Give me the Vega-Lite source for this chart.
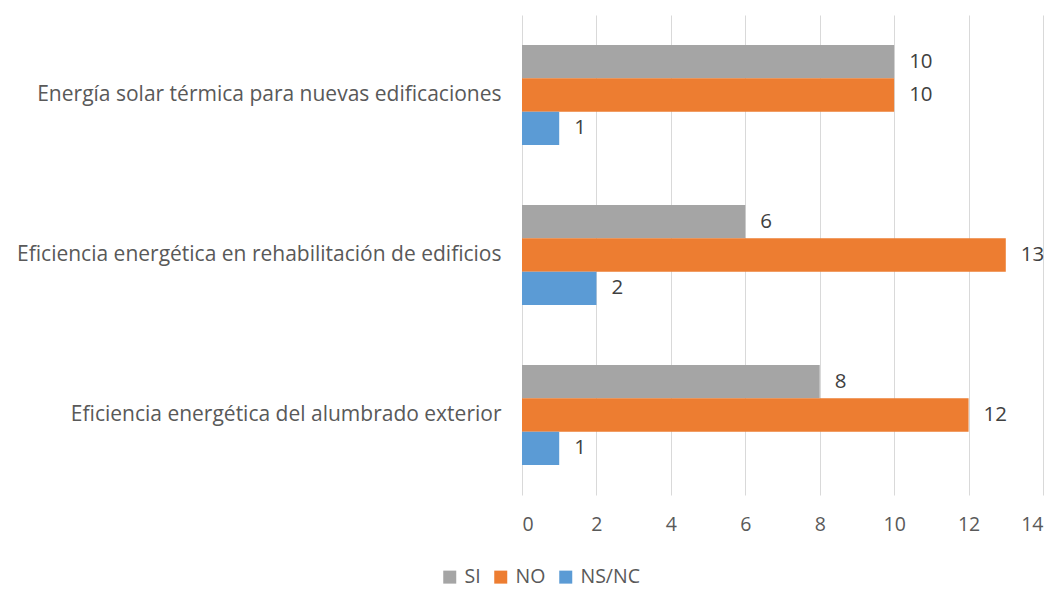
{
  "$schema": "https://vega.github.io/schema/vega-lite/v6.json",
  "width": 521,
  "height": 480,
  "autosize": {"type": "none"},
  "padding": {"left": 522, "top": 15, "right": 12, "bottom": 95},
  "background": "white",
  "config": {"font": "Open Sans", "view": {"stroke": null}},
  "data": {
    "values": [
      {"cat": "Energía solar térmica para nuevas edificaciones", "serie": "SI", "v": 10},
      {"cat": "Energía solar térmica para nuevas edificaciones", "serie": "NO", "v": 10},
      {"cat": "Energía solar térmica para nuevas edificaciones", "serie": "NS/NC", "v": 1},
      {"cat": "Eficiencia energética en rehabilitación de edificios", "serie": "SI", "v": 6},
      {"cat": "Eficiencia energética en rehabilitación de edificios", "serie": "NO", "v": 13},
      {"cat": "Eficiencia energética en rehabilitación de edificios", "serie": "NS/NC", "v": 2},
      {"cat": "Eficiencia energética del alumbrado exterior", "serie": "SI", "v": 8},
      {"cat": "Eficiencia energética del alumbrado exterior", "serie": "NO", "v": 12},
      {"cat": "Eficiencia energética del alumbrado exterior", "serie": "NS/NC", "v": 1}
    ]
  },
  "encoding": {
    "y": {
      "field": "cat",
      "type": "nominal",
      "sort": [
        "Energía solar térmica para nuevas edificaciones",
        "Eficiencia energética en rehabilitación de edificios",
        "Eficiencia energética del alumbrado exterior"
      ],
      "scale": {"paddingInner": 0.375, "paddingOuter": 0.1875},
      "axis": {
        "title": null,
        "domain": false,
        "ticks": false,
        "labelPadding": 21,
        "labelFontSize": 21,
        "labelColor": "#595959",
        "labelLimit": 600
      }
    },
    "yOffset": {
      "field": "serie",
      "type": "nominal",
      "sort": ["SI", "NO", "NS/NC"],
      "scale": {"paddingInner": 0, "paddingOuter": 0}
    },
    "x": {
      "field": "v",
      "type": "quantitative",
      "scale": {"domain": [0, 14], "nice": false},
      "axis": {
        "title": null,
        "values": [0, 2, 4, 6, 8, 10, 12, 14],
        "domain": false,
        "ticks": false,
        "grid": true,
        "gridColor": "#D9D9D9",
        "gridWidth": 1,
        "labelPadding": 20,
        "labelFontSize": 19.5,
        "labelColor": "#595959"
      }
    }
  },
  "layer": [
    {
      "mark": {"type": "bar"},
      "encoding": {
        "color": {
          "field": "serie",
          "type": "nominal",
          "sort": ["SI", "NO", "NS/NC"],
          "scale": {"domain": ["SI", "NO", "NS/NC"], "range": ["#A5A5A5", "#ED7D31", "#5B9BD5"]},
          "legend": {
            "title": null,
            "orient": "none",
            "direction": "horizontal",
            "legendX": -82,
            "legendY": 552,
            "symbolType": "square",
            "symbolSize": 169,
            "symbolStrokeWidth": 0,
            "labelFontSize": 19.5,
            "labelColor": "#595959",
            "labelOffset": 5,
            "columnPadding": 10
          }
        }
      }
    },
    {
      "mark": {"type": "text", "align": "left", "baseline": "middle", "dx": 15, "fontSize": 20.5, "color": "#404040"},
      "encoding": {"text": {"field": "v", "type": "quantitative"}}
    }
  ]
}
